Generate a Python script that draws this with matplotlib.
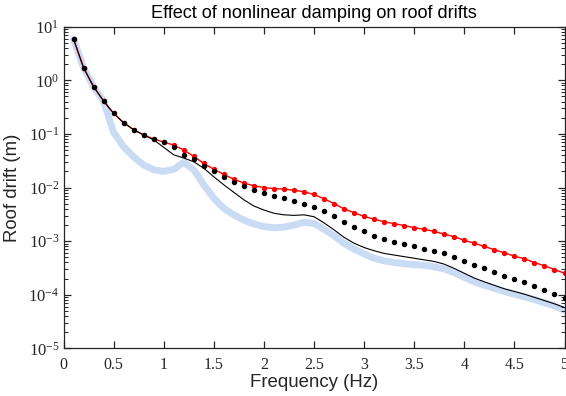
import numpy as np
import matplotlib
matplotlib.use("Agg")
import matplotlib.pyplot as plt
from matplotlib.ticker import LogLocator, FixedLocator, NullFormatter, FuncFormatter

# ---- data (log10 of roof drift in m) ----
freq = [round(0.1 * i, 1) for i in range(1, 51)]

red_log10 = [0.77, 0.235, -0.119, -0.386, -0.616, -0.791, -0.922, -1.02, -1.095, -1.151,
             -1.21, -1.30, -1.42, -1.55, -1.66, -1.754, -1.847, -1.916, -1.97, -2.00,
             -2.02, -2.03, -2.05, -2.08, -2.13, -2.21, -2.30, -2.40, -2.47, -2.54,
             -2.59, -2.64, -2.675, -2.71, -2.75, -2.78, -2.82, -2.87, -2.92, -2.985,
             -3.04, -3.10, -3.16, -3.22, -3.28, -3.33, -3.40, -3.46, -3.53, -3.60]

dots_log10 = [0.77, 0.235, -0.119, -0.386, -0.616, -0.791, -0.922, -1.02, -1.10, -1.16,
              -1.25, -1.39, -1.47, -1.59, -1.70, -1.81, -1.90, -1.98, -2.047, -2.10,
              -2.15, -2.20, -2.25, -2.30, -2.36, -2.43, -2.53, -2.64, -2.74, -2.82,
              -2.90, -2.96, -3.02, -3.06, -3.10, -3.14, -3.18, -3.23, -3.30, -3.37,
              -3.44, -3.51, -3.58, -3.645, -3.71, -3.77, -3.84, -3.91, -3.99, -4.06]

black_log10 = [0.77, 0.235, -0.119, -0.386, -0.616, -0.791, -0.922, -1.02, -1.11, -1.25,
               -1.39, -1.45, -1.52, -1.64, -1.80, -1.95, -2.09, -2.23, -2.345, -2.42,
               -2.48, -2.51, -2.52, -2.51, -2.545, -2.66, -2.79, -2.93, -3.04, -3.12,
               -3.18, -3.23, -3.26, -3.29, -3.32, -3.35, -3.38, -3.43, -3.51, -3.60,
               -3.69, -3.76, -3.825, -3.89, -3.94, -3.99, -4.05, -4.11, -4.17, -4.24]

blue_freq = [0.1, 0.2, 0.3, 0.4, 0.45, 0.5, 0.6, 0.7, 0.8, 0.9, 1.0, 1.1, 1.2, 1.3, 1.4,
             1.5, 1.6, 1.7, 1.8, 1.9, 2.0, 2.1, 2.2, 2.3, 2.4, 2.5, 2.6, 2.7, 2.8, 2.9,
             3.0, 3.1, 3.2, 3.3, 3.4, 3.5, 3.6, 3.7, 3.8, 3.9, 4.0, 4.1, 4.2, 4.3, 4.4,
             4.5, 4.6, 4.7, 4.8, 4.9, 5.0]
blue_log10 = [0.77, 0.235, -0.12, -0.39, -0.68, -0.97, -1.24, -1.43, -1.58, -1.67, -1.70,
              -1.66, -1.53, -1.67, -1.95, -2.20, -2.39, -2.51, -2.61, -2.68, -2.73, -2.75,
              -2.74, -2.70, -2.65, -2.67, -2.78, -2.90, -3.04, -3.15, -3.24, -3.32, -3.37,
              -3.40, -3.42, -3.44, -3.45, -3.48, -3.52, -3.59, -3.675, -3.76, -3.825,
              -3.88, -3.94, -3.99, -4.04, -4.09, -4.15, -4.21, -4.29]

xticks = [0, 0.5, 1, 1.5, 2, 2.5, 3, 3.5, 4, 4.5, 5]
xtick_labels = ["0", "0.5", "1", "1.5", "2", "2.5", "3", "3.5", "4", "4.5", "5"]
ydecades = [1e-5, 1e-4, 1e-3, 1e-2, 1e-1, 1e0, 1e1]

title = "Effect of nonlinear damping on roof drifts"
xlabel = "Frequency (Hz)"
ylabel = "Roof drift (m)"

# ---- style ----
plt.rcParams["font.family"] = ["Liberation Serif", "DejaVu Serif"]
plt.rcParams["mathtext.fontset"] = "custom"
plt.rcParams["mathtext.rm"] = "Liberation Serif"
plt.rcParams["mathtext.it"] = "Liberation Serif:italic"
plt.rcParams["mathtext.bf"] = "Liberation Serif:bold"
for a in ("xtick", "ytick"):
    plt.rcParams[a + ".direction"] = "in"
    plt.rcParams[a + ".major.size"] = 5
    plt.rcParams[a + ".minor.size"] = 3
    plt.rcParams[a + ".major.width"] = 0.9
    plt.rcParams[a + ".minor.width"] = 0.7
    plt.rcParams[a + ".color"] = "#262626"
plt.rcParams["xtick.top"] = True
plt.rcParams["ytick.right"] = True

W, H = 566, 396
fig = plt.figure(figsize=(W / 100, H / 100), dpi=100)
left, right, top, bottom = 63.5, 564.5, 26.7, 348.3
ax = fig.add_axes([left / W, 1 - bottom / H, (right - left) / W, (bottom - top) / H])

to_lin = lambda a: np.power(10.0, np.array(a))

ax.plot(blue_freq, to_lin(blue_log10), color="#cadcf4", lw=5.0, solid_capstyle="round", zorder=1)
ax.plot(freq, to_lin(red_log10), color="#ff0000", lw=1.0, marker="o", ms=2.8,
        markerfacecolor="#ff0000", markeredgecolor="#ff0000", zorder=2)
ax.plot(freq, to_lin(black_log10), color="black", lw=0.8, zorder=3)
ax.plot(freq, to_lin(dots_log10), linestyle="none", color="black", marker="o", ms=2.9, zorder=4)

ax.set_yscale("log")
ax.set_xlim(0, 5)
ax.set_ylim(1e-5, 1e1)

ax.xaxis.set_major_locator(FixedLocator(xticks))
ax.set_xticklabels(xtick_labels, fontsize=11.5, color="#262626")
ax.yaxis.set_major_locator(FixedLocator(ydecades))
ax.yaxis.set_major_formatter(FuncFormatter(lambda v, p: r"$10^{%d}$" % int(round(np.log10(v)))))
ax.yaxis.set_minor_locator(LogLocator(base=10, subs=np.arange(2, 10), numticks=100))
ax.yaxis.set_minor_formatter(NullFormatter())
ax.tick_params(axis="y", which="major", labelsize=12, labelcolor="#262626")

ax.tick_params(which="both", direction="in", top=True, right=True, bottom=True, left=True,
               color="#262626")
ax.tick_params(which="major", length=5, width=0.9)
ax.tick_params(which="minor", length=3, width=0.7)
ax.tick_params(axis="x", pad=6)
ax.tick_params(axis="y", pad=3)
for s in ax.spines.values():
    s.set_color("#262626")
    s.set_linewidth(0.9)

ax.set_title(title, family="Liberation Sans", fontsize=13.1, color="black", pad=6)
ax.set_xlabel(xlabel, family="Liberation Sans", fontsize=13.4, color="#262626", labelpad=1)
ax.set_ylabel(ylabel, family="Liberation Sans", fontsize=13.4, color="#262626", labelpad=5)

fig.savefig("out.png", dpi=100)
